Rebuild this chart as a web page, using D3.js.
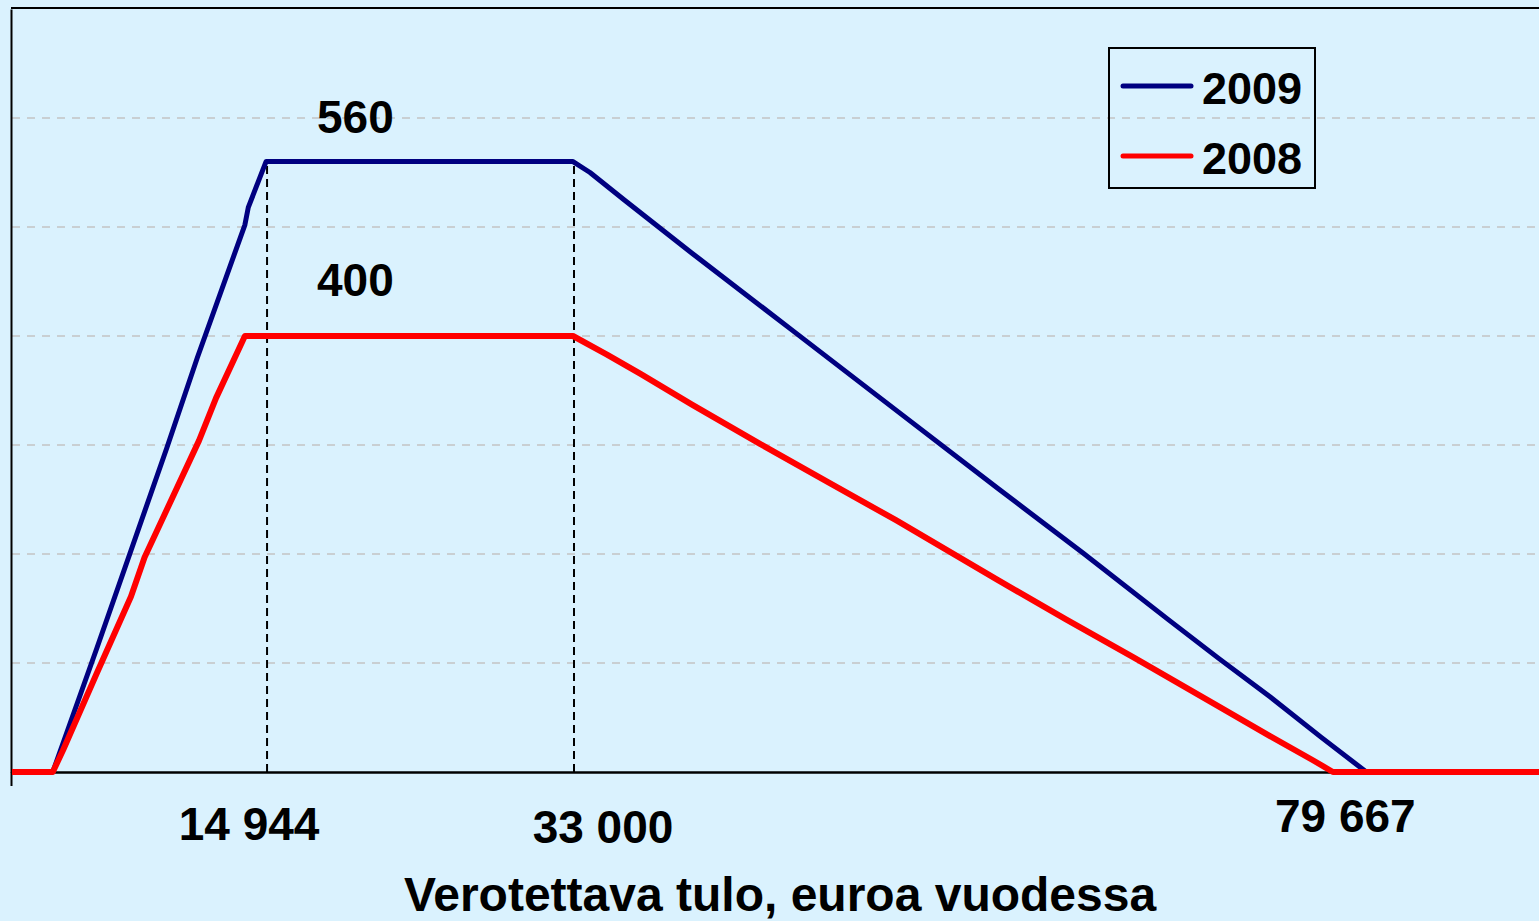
<!DOCTYPE html>
<html>
<head>
<meta charset="utf-8">
<script src="https://cdn.jsdelivr.net/npm/d3@7"></script>
<style>
  body { margin: 0; background: #DAF2FE; }
  text { font-family: "Liberation Sans", Arial, sans-serif; font-weight: bold; fill: #000; }
</style>
</head>
<body>
<div id="chart"></div>
<script>
// Chart data (taxable income in euros -> deduction in euros)
var series = ["2009", "2008"];
var income2009 = [0, 2400, 5000, 9100, 10900, 13700, 13900, 14944, 33000, 34000, 36000, 40000, 46000, 52000, 58000, 63000, 68000, 71000, 74000, 77000, 79667, 90000];
var value2009 = [0, 0, 114, 297, 380, 502, 518, 560, 560, 550, 525, 476, 404, 332, 260, 201, 140, 104, 69, 32, 0, 0];
var income2008 = [0, 2400, 3000, 5000, 7000, 7800, 11000, 12000, 13700, 33000, 35000, 37000, 40000, 44000, 48000, 52000, 58000, 62000, 66000, 71000, 74000, 76500, 77700, 90000];
var value2008 = [0, 0, 20, 91, 161, 197, 304, 343, 400, 400, 383, 365, 337, 301, 266, 231, 176, 140, 105, 60, 33, 11, 0, 0];
var markerTicks = [14944, 33000, 79667];
var peakValues = [560, 400];
var xTitle = "Verotettava tulo, euroa vuodessa";

// SVG dimensions
var svgWidth = 1539;
var svgHeight = 921;

var svg = d3.select("#chart")
    .append("svg")
    .attr("width", svgWidth)
    .attr("height", svgHeight);

svg.append("rect")
    .attr("width", svgWidth)
    .attr("height", svgHeight)
    .attr("fill", "#DAF2FE");

// Scales
var xScale = d3.scaleLinear().domain([0, 90000]).range([12, 1542]);
var yScale = d3.scaleLinear().domain([0, 700]).range([772, 9]);

var fmt = d3.formatLocale({ decimal: ",", thousands: " ", grouping: [3], currency: ["", ""] }).format(",");

// Gridlines
svg.append("g")
    .selectAll("line")
    .data([100, 200, 300, 400, 500, 600])
    .enter()
    .append("line")
    .attr("x1", xScale(0))
    .attr("x2", svgWidth)
    .attr("y1", d => yScale(d))
    .attr("y2", d => yScale(d))
    .attr("stroke", "#C4C4C4")
    .attr("stroke-width", 1.5)
    .attr("stroke-dasharray", "8,7");

// Top border
svg.append("line")
    .attr("x1", 11).attr("x2", svgWidth)
    .attr("y1", 8).attr("y2", 8)
    .attr("stroke", "#000").attr("stroke-width", 2);

// Left axis (no labels)
var leftAxis = d3.axisLeft(yScale).tickValues([]).tickSizeOuter(0);
svg.append("g")
    .attr("transform", `translate(${xScale(0) - 1}, 0)`)
    .call(leftAxis)
    .call(g => g.select(".domain").attr("stroke-width", 2));

// Bottom axis: only the small tick at the origin
var bottomAxis = d3.axisBottom(xScale).tickValues([0]).tickSize(14).tickSizeOuter(0).tickFormat("");
svg.append("g")
    .attr("transform", `translate(-1, ${yScale(0)})`)
    .call(bottomAxis)
    .call(g => g.select(".domain").attr("stroke-width", 2.5))
    .call(g => g.selectAll(".tick line").attr("stroke-width", 2));

// Dashed verticals at the plateau limits
var plateau = [14944, 33000];
svg.append("g")
    .selectAll("line")
    .data(plateau)
    .enter()
    .append("line")
    .attr("x1", d => xScale(d) + 1)
    .attr("x2", d => xScale(d) + 1)
    .attr("y1", yScale(0))
    .attr("y2", yScale(peakValues[0]))
    .attr("stroke", "#000")
    .attr("stroke-width", 2)
    .attr("stroke-dasharray", "8,5");

// Lines
var line = d3.line()
    .x(d => xScale(d[0]))
    .y(d => yScale(d[1]));

var data2009 = income2009.map((v, i) => [v, value2009[i]]);
var data2008 = income2008.map((v, i) => [v, value2008[i]]);

svg.append("path")
    .datum(data2009)
    .attr("d", line)
    .attr("fill", "none")
    .attr("stroke", "#000080")
    .attr("stroke-width", 5)
    .attr("stroke-linejoin", "round");

svg.append("path")
    .datum(data2008)
    .attr("d", line)
    .attr("fill", "none")
    .attr("stroke", "#FF0000")
    .attr("stroke-width", 6)
    .attr("stroke-linejoin", "round");

// Peak labels
var peakOffsets = [-29, -40];
svg.append("g")
    .selectAll("text")
    .data(peakValues)
    .enter()
    .append("text")
    .attr("x", xScale(20200))
    .attr("y", (d, i) => yScale(d) + peakOffsets[i])
    .attr("text-anchor", "middle")
    .style("font-size", "46px")
    .text(d => d);

// Income labels under the axis
var tickShift = [-17, 30, -21];
var tickBase = [840, 843, 832];
svg.append("g")
    .selectAll("text")
    .data(markerTicks)
    .enter()
    .append("text")
    .attr("x", (d, i) => xScale(d) + tickShift[i])
    .attr("y", (d, i) => tickBase[i])
    .attr("text-anchor", "middle")
    .style("font-size", "46px")
    .text(d => fmt(d));

// Axis title
svg.append("text")
    .attr("x", 780)
    .attr("y", 911)
    .attr("text-anchor", "middle")
    .style("font-size", "48px")
    .text(xTitle);

// Legend
var legend = svg.append("g").attr("transform", "translate(1109, 48)");
legend.append("rect")
    .attr("width", 206)
    .attr("height", 140)
    .attr("fill", "none")
    .attr("stroke", "#000")
    .attr("stroke-width", 2);

var legendColors = ["#000080", "#FF0000"];
var legendItems = legend.selectAll(".item")
    .data(series)
    .enter()
    .append("g")
    .attr("transform", (d, i) => `translate(0, ${38 + i * 70})`);

legendItems.append("line")
    .attr("x1", 14).attr("x2", 82)
    .attr("y1", 0).attr("y2", 0)
    .attr("stroke", (d, i) => legendColors[i])
    .attr("stroke-width", 5)
    .attr("stroke-linecap", "round");

legendItems.append("text")
    .attr("x", 93)
    .attr("y", 18)
    .style("font-size", "45px")
    .text(d => d);
</script>
</body>
</html>
